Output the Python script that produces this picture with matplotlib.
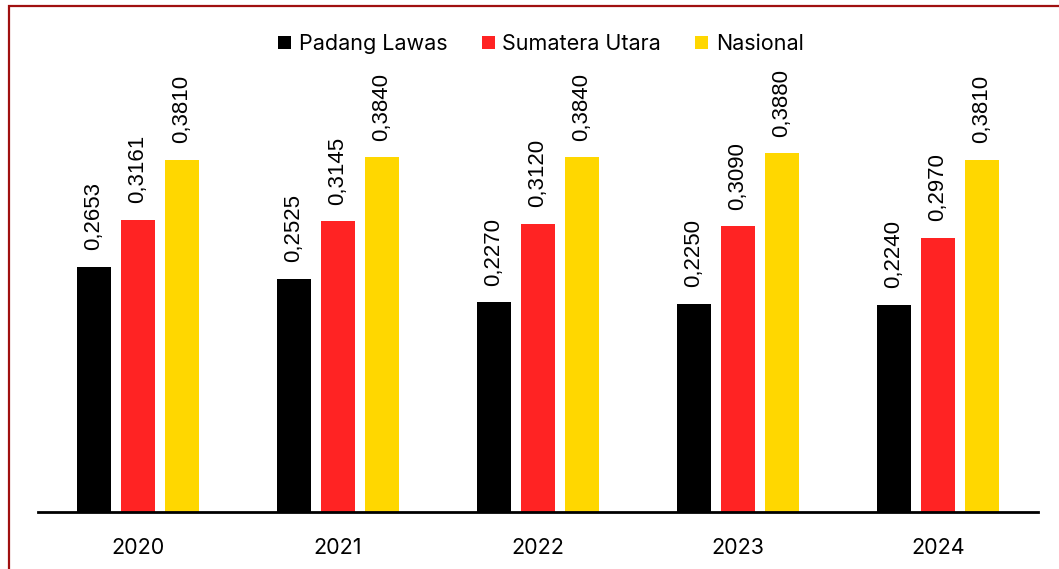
import numpy as np
import matplotlib.pyplot as plt
from matplotlib.patches import Rectangle

plt.rcParams["font.family"] = ["Inter", "DejaVu Sans"]

years = ["2020", "2021", "2022", "2023", "2024"]
padang_lawas = [0.2653, 0.2525, 0.2270, 0.2250, 0.2240]
sumatera_utara = [0.3161, 0.3145, 0.3120, 0.3090, 0.2970]
nasional = [0.3810, 0.3840, 0.3840, 0.3880, 0.3810]
series_names = ["Padang Lawas", "Sumatera Utara", "Nasional"]

BLACK = "#000000"; RED = "#FF2323"; YELLOW = "#FFD700"

W, H = 1059, 569
fig = plt.figure(figsize=(W/100, H/100), dpi=100)
ax = fig.add_axes([38/W, (H-512)/H, 1000/W, 452/H])

x = np.arange(len(years))
bw = 0.17
offs = [-0.2225, 0.0, 0.22]
for vals, off, col, name in zip([padang_lawas, sumatera_utara, nasional], offs,
                                [BLACK, RED, YELLOW], series_names):
    bars = ax.bar(x + off, vals, width=bw, color=col, label=name, zorder=2)
    for b, v in zip(bars, vals):
        ax.annotate(f"{v:.4f}".replace(".", ","), xy=(b.get_x()+b.get_width()/2, v),
                    xytext=(0, 12), textcoords="offset points", rotation=90,
                    ha="center", va="bottom", fontsize=16, family="Liberation Sans")

ax.set_xlim(-0.5, len(years)-0.5)
ax.set_ylim(0, 452/924)
ax.set_xticks(x)
ax.set_xticklabels(years, fontsize=15.5)
ax.tick_params(axis="x", length=0, pad=19)
ax.set_yticks([])
for s in ["top", "right", "left"]:
    ax.spines[s].set_visible(False)
ax.spines["bottom"].set_linewidth(2)
ax.spines["bottom"].set_zorder(3)

fig.legend(loc="center", bbox_to_anchor=(541/W, 1-44/H), ncol=3, frameon=False,
           fontsize=15.5, handlelength=0.6, handleheight=0.6, handletextpad=0.35,
           columnspacing=1.6)

fig.patches.append(Rectangle((8.5/W, -0.1), 1.2, 1 - 6.5/H + 0.1, transform=fig.transFigure,
                             fill=False, edgecolor="#A01010", lw=1.6))

fig.savefig("out.png", dpi=100, facecolor="white")
